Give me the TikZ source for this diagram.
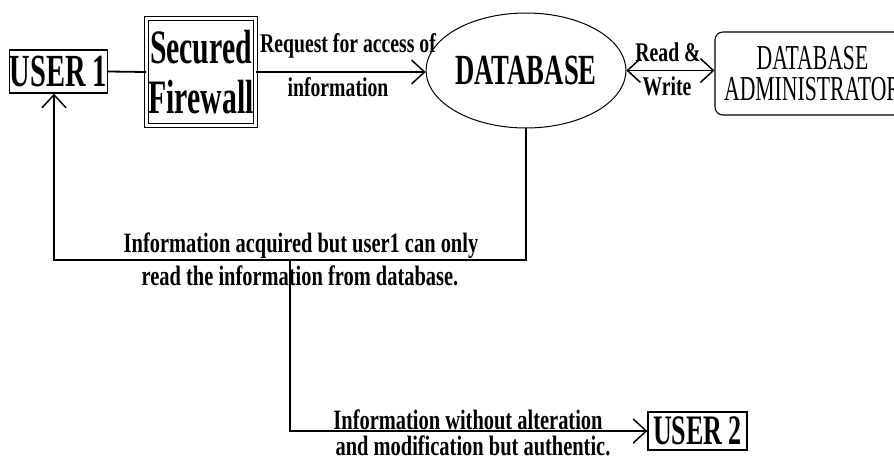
\documentclass[tikz,border=0pt]{standalone}
\usepackage{fontspec}
\setmainfont{Liberation Serif}
\newfontfamily\bigf[FakeStretch=0.62]{Liberation Serif}
\newfontfamily\labf[FakeStretch=0.73]{Liberation Serif}
\usetikzlibrary{arrows.meta,shapes.geometric,calc}
\begin{document}
\begin{tikzpicture}[x=1pt,y=-1pt,
  boxnode/.style={draw, line width=1.3pt, inner sep=0pt},
  conn/.style={line width=1.8pt},
  barb/.style={-{Straight Barb[length=13pt,width=24pt,line width=1.5pt]}},
  dbarb/.style={{Straight Barb[length=13pt,width=24pt,line width=1.5pt]}-{Straight Barb[length=13pt,width=24pt,line width=1.5pt]}},
  lab/.style={font=\labf\bfseries\fontsize{27}{27}\selectfont, inner sep=0pt, anchor=base},
  lablow/.style={font=\labf\bfseries\fontsize{28}{28}\selectfont, inner sep=0pt, anchor=base}
]
\useasboundingbox (0,0) rectangle (894,457);
\fill[white] (0,0) rectangle (894,457);
\clip (0,0) rectangle (894,457);

% nodes
\node[boxnode, minimum width=97pt, minimum height=43pt,
      font=\bigf\bfseries\fontsize{46}{46}\selectfont] (u1) at (58.5,71.5) {USER 1};
\node[draw, line width=1.2pt, double, double distance=3pt, inner sep=0pt,
      minimum width=108.6pt, minimum height=106.6pt, align=center,
      font=\bigf\bfseries\fontsize{48}{50}\selectfont] (fw) at (201,72) {Secured\\Firewall};
\node[ellipse, draw, line width=1pt, inner sep=0pt, minimum width=192pt, minimum height=115pt,
      font=\bigf\bfseries\fontsize{43}{43}\selectfont] (db) at (526,70.5) {DATABASE};
\node[draw, line width=1.1pt, rounded corners=8pt, inner sep=0pt, minimum width=195pt,
      minimum height=83pt, align=center,
      font=\bigf\fontsize{35}{31}\selectfont] (adm) at (812.5,73.5) {DATABASE\\ADMINISTRATOR};
\node[boxnode, minimum width=99pt, minimum height=38pt,
      font=\bigf\bfseries\fontsize{42}{42}\selectfont] (u2) at (697.5,431) {USER 2};

% labels
\node[lab] (l1) at (348,53) {Request for access of};
\node[lab] (l2) at (338,97) {information};
\node[lab] (l3) at (668,62) {Read \&};
\node[lab] (l4) at (667,96) {Write};
\node[lablow] (l5) at (301,252) {Information acquired but user1 can only};
\node[lablow] (l6) at (300,285) {read the information from database.};
\node[lablow] (l7) at (468,429) {Information without alteration};
\node[lablow] (l8) at (473,455) {and modification but authentic.};

% connectors
\coordinate (c1) at (54,260);
\coordinate (c2) at (290,260);
\draw[conn] (u1.east) -- (fw.west);
\draw[conn,barb] (fw.east) -- (fw.east -| db.west);
\draw[conn,dbarb] (db.east) -- (db.east -| adm.west);
\draw[conn,barb] (db.south) -- (db.south |- c1) -- (c1) -- (c1 |- u1.south);
\draw[conn,barb] (c2) -- (c2 |- u2.west) -- (u2.west);
\end{tikzpicture}
\end{document}
